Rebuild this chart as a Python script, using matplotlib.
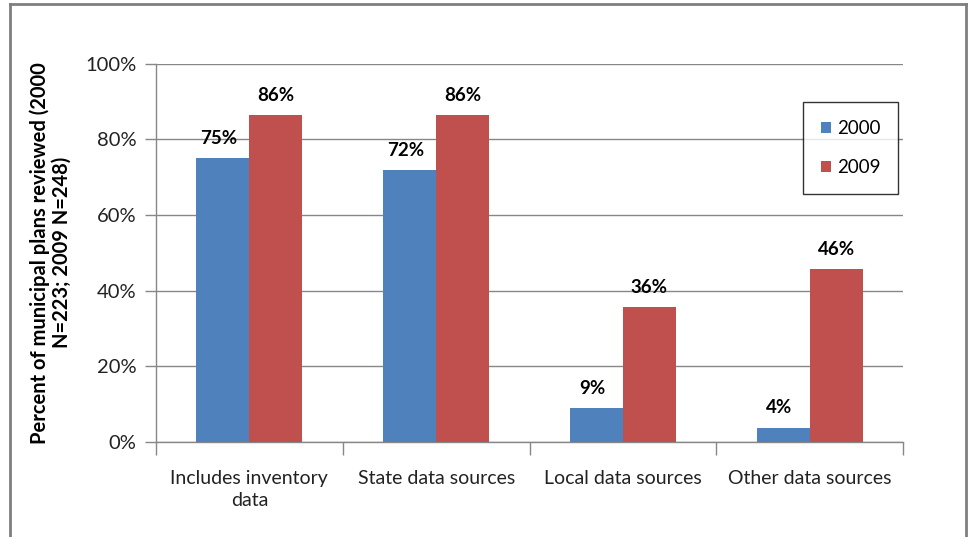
import matplotlib
matplotlib.use("Agg")
import matplotlib.pyplot as plt
from matplotlib.patches import Patch
from matplotlib.lines import Line2D
import numpy as np

plt.rcParams["font.family"] = ["Lato", "DejaVu Sans"]

# data
categories = ["Includes inventory\ndata", "State data sources", "Local data sources", "Other data sources"]
years = ["2000", "2009"]
pct_2000 = [75.1, 71.9, 8.9, 3.8]
pct_2009 = [86.4, 86.4, 35.6, 45.7]
labels_2000 = ["75%", "72%", "9%", "4%"]
labels_2009 = ["86%", "86%", "36%", "46%"]
yticks = [0, 20, 40, 60, 80, 100]

blue = "#4F81BD"
red = "#C0504D"
grid_c = "#878787"

W, H = 969, 537
fig = plt.figure(figsize=(W / 100, H / 100), dpi=100)
ax = fig.add_axes([156 / W, (H - 442) / H, 747 / W, (442 - 63.7) / H])

x = np.arange(len(categories))
bw = 0.284
b1 = ax.bar(x - bw / 2, pct_2000, bw, color=blue, zorder=3)
b2 = ax.bar(x + bw / 2, pct_2009, bw, color=red, zorder=3)

for rect, lab in zip(b1, labels_2000):
    ax.text(rect.get_x() + rect.get_width() / 2 - 0.02, rect.get_height() + 3.0, lab,
            ha="center", va="bottom", fontsize=13.5, fontweight="bold", zorder=4)
for rect, lab in zip(b2, labels_2009):
    ax.text(rect.get_x() + rect.get_width() / 2, rect.get_height() + 3.0, lab,
            ha="center", va="bottom", fontsize=13.5, fontweight="bold", zorder=4)

ax.set_xlim(-0.5, len(categories) - 0.5)
ax.set_ylim(0, 100)
ax.set_yticks(yticks)
ax.set_yticklabels([f"{t}%" for t in yticks], fontsize=14.5, color="#222222")
ax.yaxis.grid(True, color=grid_c, linewidth=1, zorder=0)
ax.tick_params(axis="y", length=8, color=grid_c, width=1, pad=6)

ax.set_xticks(x)
ax.set_xticklabels(categories, fontsize=14, color="#222222", linespacing=1.35)
ax.tick_params(axis="x", which="major", length=0, pad=20)
ax.set_xticks(np.arange(-0.5, len(categories)), minor=True)
ax.tick_params(axis="x", which="minor", length=9, color=grid_c, width=1)

for s in ["top", "right"]:
    ax.spines[s].set_visible(False)
for s in ["left", "bottom"]:
    ax.spines[s].set_color(grid_c)
    ax.spines[s].set_linewidth(1)

ax.set_ylabel("Percent of municipal plans reviewed (2000\nN=223; 2009 N=248)",
              fontsize=14.5, fontweight="bold", labelpad=10, linespacing=1.1)

handles = [Patch(facecolor=blue), Patch(facecolor=red)]
leg = fig.legend(handles, years, loc="upper left",
                 bbox_to_anchor=(803 / W, 1 - 102 / H), fontsize=13.5,
                 frameon=True, fancybox=False, handlelength=0.55, handleheight=0.55,
                 handletextpad=0.3, labelspacing=1.2, borderpad=0.95, borderaxespad=0)
leg.get_frame().set_edgecolor("black")
leg.get_frame().set_linewidth(1)

# outer chart border
bc = "#7F7F7F"
fig.add_artist(Line2D([10 / W, 10 / W], [0, 1 - 4 / H], color=bc, linewidth=2))
fig.add_artist(Line2D([10 / W, 966 / W], [1 - 4 / H, 1 - 4 / H], color=bc, linewidth=2))
fig.add_artist(Line2D([966 / W, 966 / W], [0, 1 - 4 / H], color=bc, linewidth=2))

fig.savefig("out.png", dpi=100)
